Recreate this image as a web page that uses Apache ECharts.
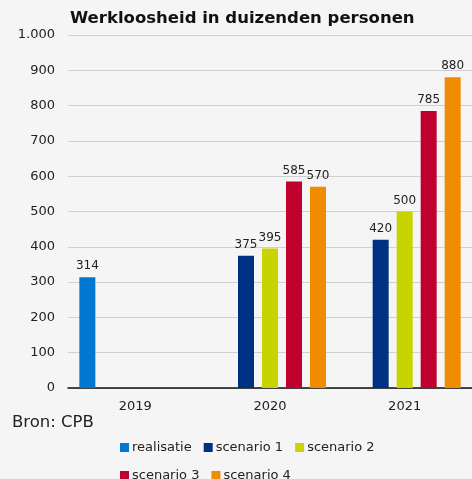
<!DOCTYPE html>
<html>
<head>
<meta charset="utf-8">
<script src="https://cdn.jsdelivr.net/npm/echarts@6/dist/echarts.min.js"></script>
<style>
html,body{margin:0;padding:0;background:#f5f5f5;}
#c{width:472px;height:479px;}
</style>
</head>
<body>
<div id="c"></div>
<script>
const categories = ['2019', '2020', '2021'];
const realisatie = [314, null, null];
const scenario1 = [null, 375, 420];
const scenario2 = [null, 395, 500];
const scenario3 = [null, 585, 785];
const scenario4 = [null, 570, 880];
const seriesNames = ['realisatie', 'scenario 1', 'scenario 2', 'scenario 3', 'scenario 4'];
const seriesData = [realisatie, scenario1, scenario2, scenario3, scenario4];
const colors = ['#0078d2', '#003082', '#c8d400', '#c0002e', '#f08c00'];

const font = 'DejaVu Sans, Verdana, sans-serif';
const chart = echarts.init(document.getElementById('c'));
chart.setOption({
  backgroundColor: '#f5f5f5',
  animation: false,
  textStyle: { fontFamily: font },
  title: [
    { text: 'Werkloosheid in duizenden personen', left: 70, top: 10, padding: 0,
      textStyle: { fontFamily: font, fontWeight: 'bold', fontSize: 16.5, color: '#111' } },
    { text: 'Bron: CPB', left: 12, top: 414, padding: 0,
      textStyle: { fontFamily: font, fontWeight: 'normal', fontSize: 16.5, color: '#222' } }
  ],
  legend: [
    { data: seriesNames.slice(0, 3), left: 120, top: 441, padding: 0, itemWidth: 9, itemHeight: 9, itemGap: 12,
      icon: 'rect', textStyle: { fontFamily: font, fontSize: 13, color: '#222', padding: [0, 0, 0, -2] } },
    { data: seriesNames.slice(3), left: 120, top: 469, padding: 0, itemWidth: 9, itemHeight: 9, itemGap: 12,
      icon: 'rect', textStyle: { fontFamily: font, fontSize: 13, color: '#222', padding: [0, 0, 0, -2] } }
  ],
  grid: { left: 68, top: 35, width: 406, height: 353, containLabel: false },
  xAxis: {
    type: 'category', data: categories,
    axisLine: { lineStyle: { color: '#111', width: 1.5 } },
    axisTick: { show: false },
    axisLabel: { fontFamily: font, fontSize: 13, color: '#222', margin: 12 }
  },
  yAxis: {
    type: 'value', min: 0, max: 1000, interval: 100,
    axisLine: { show: false }, axisTick: { show: false },
    splitLine: { lineStyle: { color: '#cfcfcf', width: 1 } },
    axisLabel: { fontFamily: font, fontSize: 13, color: '#222', margin: 13,
      formatter: v => v >= 1000 ? (v / 1000).toFixed(0) + '.' + String(v % 1000).padStart(3, '0') : String(v) }
  },
  series: seriesNames.map((n, i) => ({
    name: n, type: 'bar', data: seriesData[i],
    barWidth: 16, barGap: '50%', barCategoryGap: '17%',
    itemStyle: { color: colors[i] },
    label: { show: true, position: 'top', distance: 5, fontFamily: font, fontSize: 12, color: '#222' }
  }))
});
</script>
</body>
</html>
